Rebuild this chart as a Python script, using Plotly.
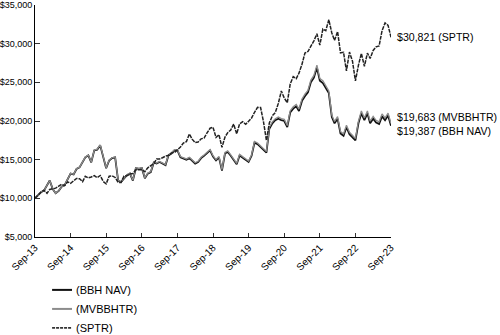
import pandas as pd
import plotly.graph_objects as go

# Month-end dates, Sep 2013 .. Sep 2023
dates = pd.date_range("2013-09-30", "2023-09-30", freq="ME")

# Growth of $10,000
bbh_nav = [
    10000, 10350, 10800, 11000, 11600, 12300, 11200, 10650, 10950, 11500, 11700, 12500,
    13200, 13100, 13800, 14000, 14600, 15300, 15550, 14650, 16200, 16300, 16850, 15300,
    13900, 14900, 15200, 15300, 12300, 12100, 12600, 13000, 13200, 12300, 13900, 13800,
    13900, 12600, 13200, 13400, 14650, 14500, 14700, 14500, 14300, 15550, 15800, 16200,
    16200, 15300, 15200, 15000, 15200, 14900, 14500, 14700, 15200, 15500, 15800, 16200,
    15400, 14900, 15300, 13600, 15800, 16000, 15500, 15000, 14400, 15550, 15300, 15000,
    14700, 15500, 17200, 17000, 16600, 16300, 15900, 19000, 19700, 20100, 20300, 20100,
    20000, 19200, 21100, 21600, 21900, 21300, 22600, 23200, 23700, 25000, 25600, 26900,
    25200, 24900, 24200, 23600, 20500, 19700, 20300, 18400, 18100, 19200, 18300, 17900,
    17500, 19700, 21000, 20100, 21000, 19700, 20300, 19800, 19600, 20600, 20100, 20700,
    19387,
]

mvbbhtr = [
    10000, 10351, 10803, 11004, 11606, 12308, 11209, 10659, 10961, 11513, 11715, 12517,
    13220, 13122, 13826, 14028, 14631, 15335, 15590, 14690, 16246, 16349, 16903, 15349,
    13942, 14947, 15249, 15351, 12344, 12145, 12648, 13051, 13254, 12352, 13960, 13861,
    13964, 12659, 13263, 13466, 14724, 14575, 14777, 14578, 14378, 15636, 15888, 16297,
    16299, 15395, 15296, 15097, 15300, 14999, 14598, 14800, 15305, 15608, 15911, 16321,
    15517, 15015, 15419, 13707, 15928, 16132, 15630, 15128, 14524, 15686, 15436, 15135,
    14834, 15643, 17361, 17161, 16759, 16458, 16055, 19187, 19896, 20302, 20506, 20305,
    20214, 19407, 21330, 21838, 22143, 21539, 22855, 23465, 23973, 25290, 25900, 27218,
    25507, 25205, 24498, 23892, 20756, 19947, 20556, 18633, 18331, 19447, 18537, 18133,
    17740, 19973, 21293, 20383, 21299, 19983, 20594, 20089, 19889, 20906, 20401, 21013,
    19683,
]

sptr = [
    10000, 10460, 10774, 11043, 10657, 11147, 11236, 11315, 11575, 11818, 11653, 12119,
    11949, 12236, 12566, 12528, 12152, 12845, 12640, 12766, 12932, 12686, 12952, 12175,
    11871, 12868, 12907, 12701, 12066, 12054, 12874, 12925, 13158, 13197, 13685, 13699,
    13699, 13452, 13950, 14229, 14499, 15079, 15094, 15245, 15458, 15551, 15878, 15926,
    16260, 16634, 17150, 17339, 18327, 17649, 17208, 17277, 17692, 17798, 18456, 19065,
    19180, 17876, 18233, 16592, 17919, 18493, 18844, 19598, 18344, 19628, 19903, 19584,
    19956, 20395, 21129, 21763, 21754, 19970, 17494, 19733, 20680, 21094, 22275, 23879,
    22972, 22352, 24788, 25730, 25473, 26186, 27338, 28787, 28989, 29656, 30368, 31279,
    29809, 31896, 31673, 33098, 31377, 30436, 31562, 28816, 28874, 26477, 28913, 27728,
    25177, 27216, 28740, 27073, 28779, 28088, 29127, 29593, 29711, 31672, 32686, 32370,
    30821,
]

tick_labels = ["Sep-13", "Sep-14", "Sep-15", "Sep-16", "Sep-17", "Sep-18",
               "Sep-19", "Sep-20", "Sep-21", "Sep-22", "Sep-23"]
y_ticks = [5000, 10000, 15000, 20000, 25000, 30000, 35000]

FONT = "Liberation Sans, Arial, sans-serif"

series = [
    ("(BBH NAV)", bbh_nav, dict(color="#111111", width=1.8)),
    ("(MVBBHTR)", mvbbhtr, dict(color="#8c8c8c", width=1.3)),
    ("(SPTR)", sptr, dict(color="#222222", width=1.5, dash="4px,1px")),
]

fig = go.Figure()
for name, vals, line in series:
    fig.add_trace(go.Scatter(x=dates, y=vals, name=name, mode="lines",
                             line=line, showlegend=False))

# End-of-period value labels
end_labels = [
    (sptr[-1], f"${sptr[-1]:,} (SPTR)", 0),
    (mvbbhtr[-1], f"${mvbbhtr[-1]:,} (MVBBHTR)", 6),
    (bbh_nav[-1], f"${bbh_nav[-1]:,} (BBH NAV)", -5),
]
for val, txt, dy in end_labels:
    fig.add_annotation(x=dates[-1], y=val, text=txt, showarrow=False,
                       xanchor="left", yanchor="middle", xshift=5, yshift=dy,
                       borderpad=0,
                       font=dict(family=FONT, size=10.6, color="#000000"))

# Legend below the plot: short line sample + label per series
legend_rows = [-0.228, -0.310, -0.392]
legend_line_x = (0.048, 0.104)
legend_text_x = 0.112
legend_styles = [
    dict(color="#111111", width=2),
    dict(color="#8c8c8c", width=2),
    dict(color="#333333", width=1.8, dash="3px,1px"),
]
for (name, _, _), ly, st in zip(series, legend_rows, legend_styles):
    fig.add_shape(type="line", xref="paper", yref="paper",
                  x0=legend_line_x[0], x1=legend_line_x[1], y0=ly, y1=ly,
                  line=st)
    fig.add_annotation(xref="paper", yref="paper", x=legend_text_x, y=ly,
                       text=name, showarrow=False, xanchor="left",
                       yanchor="middle", borderpad=0,
                       font=dict(family=FONT, size=11, color="#000000"))

tick_dates = [d for d in dates if d.month == 9]

fig.update_layout(
    width=500, height=335,
    margin=dict(l=35, r=109, t=5, b=98),
    paper_bgcolor="white", plot_bgcolor="white",
    font=dict(family=FONT, color="#000000"),
    showlegend=False,
    xaxis=dict(
        range=[dates[0], dates[-1]], automargin=False,
        tickmode="array", tickvals=tick_dates, ticktext=tick_labels,
        tickangle=-45, ticks="inside", ticklen=4, tickcolor="#333333",
        showline=True, linecolor="#000000", linewidth=1,
        showgrid=False, zeroline=False,
        tickfont=dict(family=FONT, size=10, color="#000000"),
    ),
    yaxis=dict(
        range=[5000, 35000], automargin=False,
        tickmode="array", tickvals=y_ticks,
        ticktext=[f"${v:,}" for v in y_ticks],
        ticks="inside", ticklen=5, tickcolor="#333333",
        showline=True, linecolor="#000000", linewidth=1,
        showgrid=False, zeroline=False,
        tickfont=dict(family=FONT, size=9, color="#000000"),
    ),
)

fig.write_html("out.html")
